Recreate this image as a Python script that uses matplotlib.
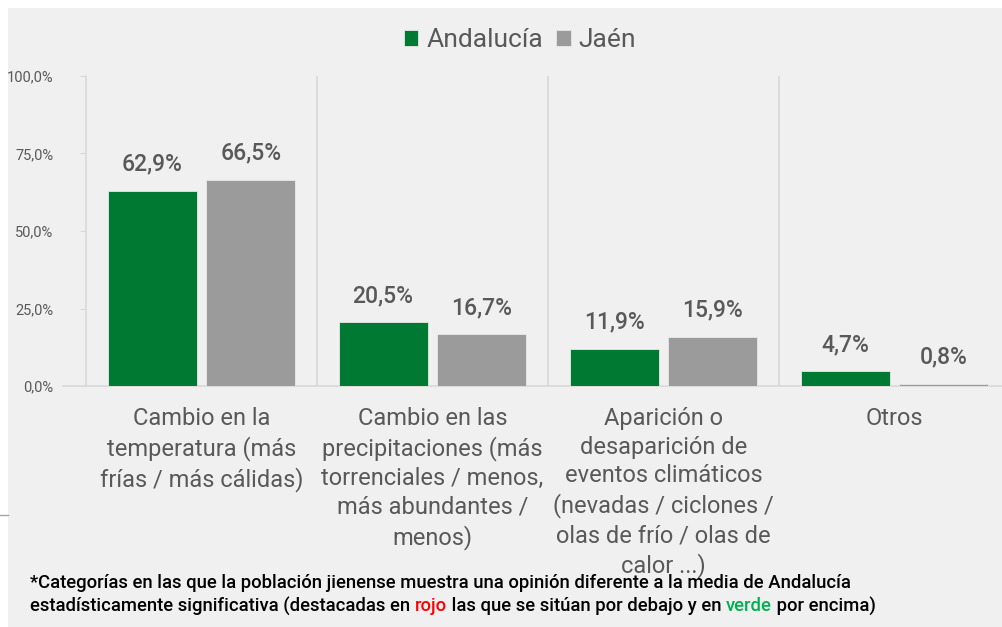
import matplotlib
matplotlib.use("Agg")
import matplotlib.pyplot as plt
import numpy as np
from matplotlib.patches import Rectangle
from matplotlib.lines import Line2D

plt.rcParams['font.family'] = ['Roboto', 'DejaVu Sans']

# data
categories = [
    "Cambio en la\ntemperatura (más\nfrías / más cálidas)",
    "Cambio en las\nprecipitaciones (más\ntorrenciales / menos,\nmás abundantes /\nmenos)",
    "Aparición o\ndesaparición de\neventos climáticos\n(nevadas / ciclones /\nolas de frío / olas de\ncalor ...)",
    "Otros",
]
andalucia = [62.9, 20.5, 11.9, 4.7]
jaen = [66.5, 16.7, 15.9, 0.8]
yticks = [0, 25, 50, 75, 100]

GREEN = '#007a33'
GREY = '#9b9b9b'
TXT = '#595959'
GRID = '#d9d9d9'
BG = '#f0f0f0'

W, H = 1002, 627
fig = plt.figure(figsize=(W / 100, H / 100), dpi=100)
fig.patch.set_facecolor('white')
# grey panel
fig.patches.append(Rectangle((8 / W, 0), 1, 1 - 8 / H, transform=fig.transFigure,
                             facecolor=BG, edgecolor='none', zorder=-10))
# little stray line at the left edge
fig.lines.append(Line2D([0, 8 / W], [1 - 515 / H] * 2, transform=fig.transFigure,
                        color='#a6a6a6', lw=1))

ax = fig.add_axes([86 / W, 1 - 386 / H, (1010 - 86) / W, 310 / H])
ax.patch.set_alpha(0)

x = np.arange(len(categories))
bw = 0.385
off = 0.214
b1 = ax.bar(x - off, andalucia, bw, color=GREEN, edgecolor='#e8e8e8', lw=0.6, label='Andalucía', zorder=3)
b2 = ax.bar(x + off, jaen, bw, color=GREY, edgecolor='#e8e8e8', lw=0.6, label='Jaén', zorder=3)

for bars, vals in ((b1, andalucia), (b2, jaen)):
    for rect, v in zip(bars, vals):
        ax.annotate(f"{v:.1f}%".replace('.', ','),
                    (rect.get_x() + rect.get_width() / 2, v),
                    xytext=(0, 11), textcoords='offset points',
                    ha='center', va='bottom', fontsize=16.5, fontweight='medium', color=TXT)

ax.set_xlim(-0.5, 3.5)
ax.set_ylim(0, 100)
ax.set_yticks(yticks)
ax.set_yticklabels([f"{t:.1f}%".replace('.', ',') for t in yticks], fontsize=10.5, color=TXT)
ax.tick_params(axis='y', length=4.5, color=GRID, pad=19)
ax.set_xticks(x)
ax.set_xticklabels(categories, fontsize=17, color=TXT, linespacing=1.32, va='top')
ax.tick_params(axis='x', length=0, pad=15)

for s in ('top', 'right'):
    ax.spines[s].set_visible(False)
for s in ('left', 'bottom'):
    ax.spines[s].set_color(GRID)
    ax.spines[s].set_linewidth(1.2)
ax.spines['bottom'].set_bounds(-0.6, 3.5)
ax.spines['bottom'].set_clip_on(False)
for b in (0.5, 1.5, 2.5):
    ax.axvline(b, color=GRID, lw=1.2, zorder=1)

fig.legend(handles=[b1, b2], loc='center', bbox_to_anchor=(520 / W, 1 - 40 / H),
           ncol=2, frameon=False, fontsize=19, labelcolor=TXT,
           handlelength=0.55, handleheight=0.55, handletextpad=0.3, columnspacing=0.5)

# footnote with coloured words
fig.canvas.draw()
r = fig.canvas.get_renderer()
fy1 = 1 - 583 / H
fig.text(30 / W, fy1, "*Categorías en las que la población jienense muestra una opinión diferente a la media de Andalucía",
         fontsize=13.3, fontweight='medium', color='black', va='center')
fy2 = 1 - 606 / H
parts = [("estadísticamente significativa (destacadas en ", 'black'), ("rojo", '#ff0000'),
         (" las que se sitúan por debajo y en ", 'black'), ("verde", '#00b050'), (" por encima)", 'black')]
xpos = 30 / W
for s, c in parts:
    t = fig.text(xpos, fy2, s, fontsize=13.3, fontweight='medium', color=c, va='center')
    bb = t.get_window_extent(renderer=r)
    xpos += bb.width / W

fig.savefig('out.png', dpi=100, facecolor=fig.get_facecolor())
